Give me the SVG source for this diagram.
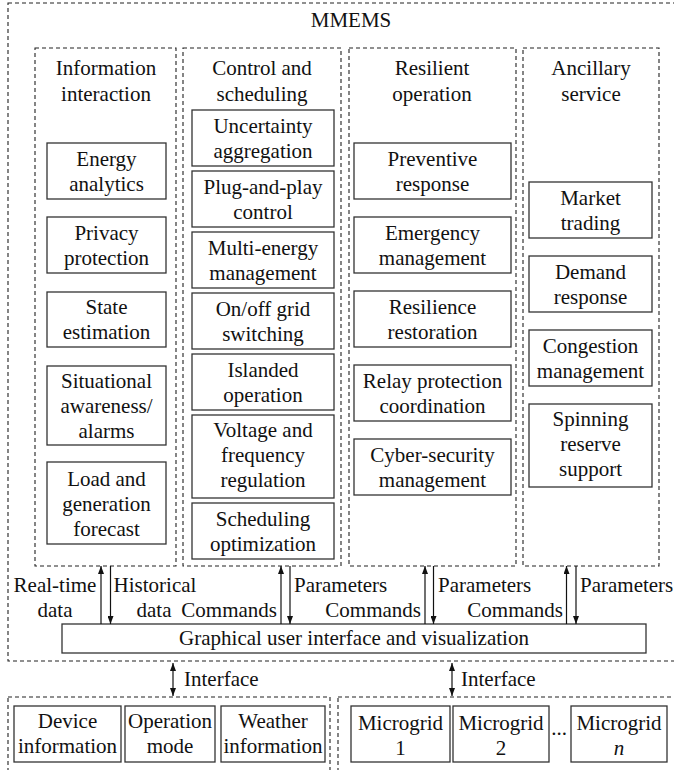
<svg xmlns="http://www.w3.org/2000/svg" width="674" height="770" viewBox="0 0 674 770">
<defs>
<style>
.dash{fill:none;stroke:#222;stroke-width:1.1;stroke-dasharray:4 3}
.box{fill:#fff;stroke:#333;stroke-width:1.3}
text{font-family:'Liberation Serif','Times New Roman',serif;font-size:21px;fill:#111}
.c{text-anchor:middle}
.e{text-anchor:end}
.ln{stroke:#111;stroke-width:1.2;fill:none}
</style>
<marker id="ah" viewBox="0 0 8 6" refX="8" refY="3" markerWidth="8" markerHeight="6" orient="auto-start-reverse" markerUnits="userSpaceOnUse"><path d="M0,0 L8,3 L0,6 z" fill="#111"/></marker>
</defs>
<rect width="674" height="770" fill="#fff"/>

<g id="mmems">
<rect class="dash" x="8" y="3" width="680" height="658"/>
<text class="c" x="351" y="27">MMEMS</text>
</g>

<g id="col-info">
<rect class="dash" x="35" y="48" width="141" height="518"/>
<text class="c" x="106" y="75">Information</text>
<text class="c" x="106" y="101">interaction</text>
</g>
<g id="col-control">
<rect class="dash" x="183" y="48" width="158" height="518"/>
<text class="c" x="262" y="75">Control and</text>
<text class="c" x="262" y="101">scheduling</text>
</g>
<g id="col-resilient">
<rect class="dash" x="349" y="48" width="167" height="518"/>
<text class="c" x="432" y="75">Resilient</text>
<text class="c" x="432" y="101">operation</text>
</g>
<g id="col-ancillary">
<rect class="dash" x="523" y="48" width="136" height="518"/>
<text class="c" x="591" y="75">Ancillary</text>
<text class="c" x="591" y="101">service</text>
</g>

<g id="energy-analytics"><rect class="box" x="47" y="143" width="119" height="56"/><text class="c" x="106.5" y="166">Energy</text><text class="c" x="106.5" y="191">analytics</text></g>
<g id="privacy-protection"><rect class="box" x="47" y="217" width="119" height="56"/><text class="c" x="106.5" y="240">Privacy</text><text class="c" x="106.5" y="265">protection</text></g>
<g id="state-estimation"><rect class="box" x="47" y="292" width="119" height="55"/><text class="c" x="106.5" y="314">State</text><text class="c" x="106.5" y="339">estimation</text></g>
<g id="situational-awareness"><rect class="box" x="47" y="366" width="119" height="79"/><text class="c" x="106.5" y="388">Situational</text><text class="c" x="106.5" y="413">awareness/</text><text class="c" x="106.5" y="438">alarms</text></g>
<g id="load-forecast"><rect class="box" x="47" y="462" width="119" height="82"/><text class="c" x="106.5" y="486">Load and</text><text class="c" x="106.5" y="511">generation</text><text class="c" x="106.5" y="536">forecast</text></g>

<g id="uncertainty"><rect class="box" x="192" y="110" width="142" height="56"/><text class="c" x="263" y="133">Uncertainty</text><text class="c" x="263" y="158">aggregation</text></g>
<g id="plug-and-play"><rect class="box" x="192" y="171" width="142" height="56"/><text class="c" x="263" y="194">Plug-and-play</text><text class="c" x="263" y="219">control</text></g>
<g id="multi-energy"><rect class="box" x="192" y="232" width="142" height="56"/><text class="c" x="263" y="255">Multi-energy</text><text class="c" x="263" y="280">management</text></g>
<g id="on-off-grid"><rect class="box" x="192" y="293" width="142" height="56"/><text class="c" x="263" y="316">On/off grid</text><text class="c" x="263" y="341">switching</text></g>
<g id="islanded"><rect class="box" x="192" y="354" width="142" height="56"/><text class="c" x="263" y="377">Islanded</text><text class="c" x="263" y="402">operation</text></g>
<g id="voltage-frequency"><rect class="box" x="192" y="415" width="142" height="83"/><text class="c" x="263" y="437">Voltage and</text><text class="c" x="263" y="462">frequency</text><text class="c" x="263" y="487">regulation</text></g>
<g id="scheduling-opt"><rect class="box" x="192" y="503" width="142" height="56"/><text class="c" x="263" y="526">Scheduling</text><text class="c" x="263" y="551">optimization</text></g>

<g id="preventive"><rect class="box" x="354" y="143" width="157" height="56"/><text class="c" x="432.5" y="166">Preventive</text><text class="c" x="432.5" y="191">response</text></g>
<g id="emergency"><rect class="box" x="354" y="217" width="157" height="56"/><text class="c" x="432.5" y="240">Emergency</text><text class="c" x="432.5" y="265">management</text></g>
<g id="resilience-restoration"><rect class="box" x="354" y="291" width="157" height="56"/><text class="c" x="432.5" y="314">Resilience</text><text class="c" x="432.5" y="339">restoration</text></g>
<g id="relay-protection"><rect class="box" x="354" y="365" width="157" height="56"/><text class="c" x="432.5" y="388">Relay protection</text><text class="c" x="432.5" y="413">coordination</text></g>
<g id="cyber-security"><rect class="box" x="354" y="439" width="157" height="56"/><text class="c" x="432.5" y="462">Cyber-security</text><text class="c" x="432.5" y="487">management</text></g>

<g id="market-trading"><rect class="box" x="529" y="182" width="123" height="56"/><text class="c" x="590.5" y="205">Market</text><text class="c" x="590.5" y="230">trading</text></g>
<g id="demand-response"><rect class="box" x="529" y="256" width="123" height="56"/><text class="c" x="590.5" y="279">Demand</text><text class="c" x="590.5" y="304">response</text></g>
<g id="congestion"><rect class="box" x="529" y="330" width="123" height="56"/><text class="c" x="590.5" y="353">Congestion</text><text class="c" x="590.5" y="378">management</text></g>
<g id="spinning-reserve"><rect class="box" x="529" y="404" width="123" height="83"/><text class="c" x="590.5" y="426">Spinning</text><text class="c" x="590.5" y="451">reserve</text><text class="c" x="590.5" y="476">support</text></g>

<g id="gui"><rect class="box" x="62" y="624" width="584" height="29"/><text class="c" x="354" y="645">Graphical user interface and visualization</text></g>

<g id="bottom-left">
<rect class="dash" x="8" y="697" width="322" height="90"/>
</g>
<g id="device-info"><rect class="box" x="14" y="706" width="107" height="56"/><text class="c" x="67.5" y="728">Device</text><text class="c" x="67.5" y="753">information</text></g>
<g id="operation-mode"><rect class="box" x="125" y="706" width="90" height="56"/><text class="c" x="170" y="728">Operation</text><text class="c" x="170" y="753">mode</text></g>
<g id="weather-info"><rect class="box" x="221" y="706" width="104" height="56"/><text class="c" x="273" y="728">Weather</text><text class="c" x="273" y="753">information</text></g>

<g id="bottom-right">
<rect class="dash" x="338" y="697" width="350" height="90"/>
</g>
<g id="microgrid-1"><rect class="box" x="351" y="706" width="99" height="56"/><text class="c" x="400.5" y="730">Microgrid</text><text class="c" x="400.5" y="755">1</text></g>
<g id="microgrid-2"><rect class="box" x="453" y="706" width="96" height="56"/><text class="c" x="501" y="730">Microgrid</text><text class="c" x="501" y="755">2</text></g>
<text class="c" x="559" y="735">...</text>
<g id="microgrid-n"><rect class="box" x="571" y="706" width="96" height="56"/><text class="c" x="619" y="730">Microgrid</text><text class="c" x="619" y="755" font-style="italic">n</text></g>

<g id="connectors">
<line class="ln" x1="101" y1="624" x2="101" y2="566" marker-end="url(#ah)"/>
<line class="ln" x1="110.5" y1="566" x2="110.5" y2="624" marker-end="url(#ah)"/>
<line class="ln" x1="281" y1="624" x2="281" y2="566" marker-end="url(#ah)"/>
<line class="ln" x1="290" y1="566" x2="290" y2="624" marker-end="url(#ah)"/>
<line class="ln" x1="425" y1="624" x2="425" y2="566" marker-end="url(#ah)"/>
<line class="ln" x1="433.5" y1="566" x2="433.5" y2="624" marker-end="url(#ah)"/>
<line class="ln" x1="566.5" y1="624" x2="566.5" y2="566" marker-end="url(#ah)"/>
<line class="ln" x1="576" y1="566" x2="576" y2="624" marker-end="url(#ah)"/>
<line class="ln" x1="173" y1="663" x2="173" y2="696" marker-start="url(#ah)" marker-end="url(#ah)"/>
<line class="ln" x1="452" y1="663" x2="452" y2="696" marker-start="url(#ah)" marker-end="url(#ah)"/>
<text class="c" x="55" y="592">Real-time</text>
<text class="c" x="55" y="617">data</text>
<text class="c" x="155" y="592">Historical</text>
<text class="c" x="154" y="617">data</text>
<text class="e" x="277" y="617">Commands</text>
<text x="294" y="592">Parameters</text>
<text class="e" x="421" y="617">Commands</text>
<text x="438" y="592">Parameters</text>
<text class="e" x="563" y="617">Commands</text>
<text x="580" y="592">Parameters</text>
<text x="184" y="686">Interface</text>
<text x="461" y="686">Interface</text>
</g>
</svg>
